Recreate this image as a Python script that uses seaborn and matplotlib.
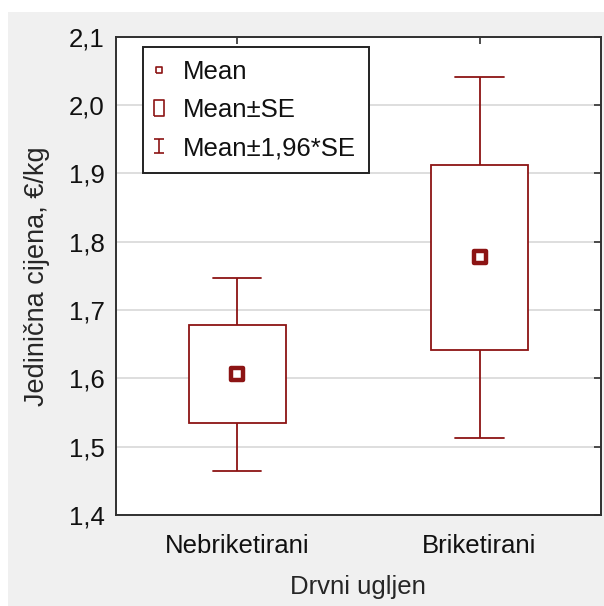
import numpy as np
import pandas as pd
import seaborn as sns
import matplotlib.pyplot as plt
from matplotlib.lines import Line2D
from matplotlib.patches import Rectangle
from matplotlib.path import Path
from matplotlib.ticker import FuncFormatter, MultipleLocator

# podaci očitani s grafa
kategorije = ["Nebriketirani", "Briketirani"]
srednje = [1.606, 1.777]
se = [0.072, 0.135]

crvena = "#8c1414"
siva = "#f0f0f0"

# long-form tablica: min/max = mean±1,96*SE, kvartili = mean±SE, medijan = mean
redovi = []
for k, m, s in zip(kategorije, srednje, se):
    for v in [m - 1.96 * s, m - s, m, m + s, m + 1.96 * s]:
        redovi.append({"Drvni ugljen": k, "vrijednost": v})
df = pd.DataFrame(redovi)

sns.set_theme(style="white")
plt.rcParams["font.family"] = ["Liberation Sans", "DejaVu Sans"]
plt.rcParams["text.color"] = "#111111"

# sivo polje do desnog i donjeg ruba, bijeli rub gore i lijevo
fig = plt.figure(figsize=(6.04, 6.06), dpi=100, facecolor=siva)
fig.patches.append(Rectangle((0, 0), 8 / 604, 1, transform=fig.transFigure,
                             facecolor="white", edgecolor="none", zorder=-10))
fig.patches.append(Rectangle((0, 1 - 12 / 606), 1, 12 / 606, transform=fig.transFigure,
                             facecolor="white", edgecolor="none", zorder=-10))
ax = fig.add_axes([116 / 604, 1 - 515 / 606, (600.7 - 116) / 604, (515 - 36.7) / 606])
ax.set_facecolor("white")

sns.boxplot(data=df, x="Drvni ugljen", y="vrijednost", order=kategorije, ax=ax,
            whis=(0, 100), width=0.4, fill=True, color="white", saturation=1,
            linecolor=crvena, linewidth=1.3, showfliers=False,
            medianprops={"visible": False}, zorder=3)
sns.scatterplot(x=kategorije, y=srednje, marker="s", s=81, color="white",
                edgecolor=crvena, linewidth=3.2, ax=ax, zorder=5)

ax.set_ylim(1.4, 2.1)
ax.set_xlim(-0.5, 1.5)
ax.yaxis.set_major_locator(MultipleLocator(0.1))
ax.yaxis.set_major_formatter(FuncFormatter(lambda v, p: f"{v:.1f}".replace(".", ",")))
ax.grid(axis="y", color="#d8d8d8", linewidth=1.2, zorder=0)
ax.set_axisbelow(True)

for sp in ax.spines.values():
    sp.set_visible(True)
    sp.set_color("#303030")
    sp.set_linewidth(1.4)

ax.tick_params(axis="both", direction="in", length=5, width=1.2, color="#303030",
               top=True, right=True, labelsize=18.5, labelcolor="#111111")
ax.tick_params(axis="x", pad=14)
ax.tick_params(axis="y", pad=8)

ax.set_xlabel("Drvni ugljen", fontsize=18.5, labelpad=12)
ax.set_ylabel("Jedinična cijena, €/kg", fontsize=19.5, labelpad=14)

# legenda u STATISTICA stilu
kvadrat = Path([(-0.5, -0.5), (0.5, -0.5), (0.5, 0.5), (-0.5, 0.5), (-0.5, -0.5)])
pravokutnik = Path([(-0.3, -0.5), (0.3, -0.5), (0.3, 0.5), (-0.3, 0.5), (-0.3, -0.5)])
ibeam = Path([(-0.42, 0.5), (0.42, 0.5), (0, 0.5), (0, -0.5), (-0.42, -0.5), (0.42, -0.5)],
             [Path.MOVETO, Path.LINETO, Path.MOVETO, Path.LINETO, Path.MOVETO, Path.LINETO])
ruke = [
    Line2D([], [], linestyle="none", marker=kvadrat, markersize=5, markerfacecolor="none",
           markeredgecolor=crvena, markeredgewidth=1.2),
    Line2D([], [], linestyle="none", marker=pravokutnik, markersize=11.5, markerfacecolor="none",
           markeredgecolor=crvena, markeredgewidth=1.2),
    Line2D([], [], linestyle="none", marker=ibeam, markersize=9.4, markerfacecolor="none",
           markeredgecolor=crvena, markeredgewidth=1.2),
]
leg = ax.legend(ruke, ["Mean", "Mean±SE", "Mean±1,96*SE"], loc="upper left",
                bbox_to_anchor=(0.055, 0.979), borderaxespad=0, fontsize=18.5,
                fancybox=False, framealpha=1, edgecolor="#222222", handlelength=0.28,
                handletextpad=0.8, borderpad=0.5, labelspacing=0.56)
leg.get_frame().set_linewidth(1.4)
leg.set_zorder(10)

plt.savefig("out.png", dpi=100, facecolor=fig.get_facecolor())
